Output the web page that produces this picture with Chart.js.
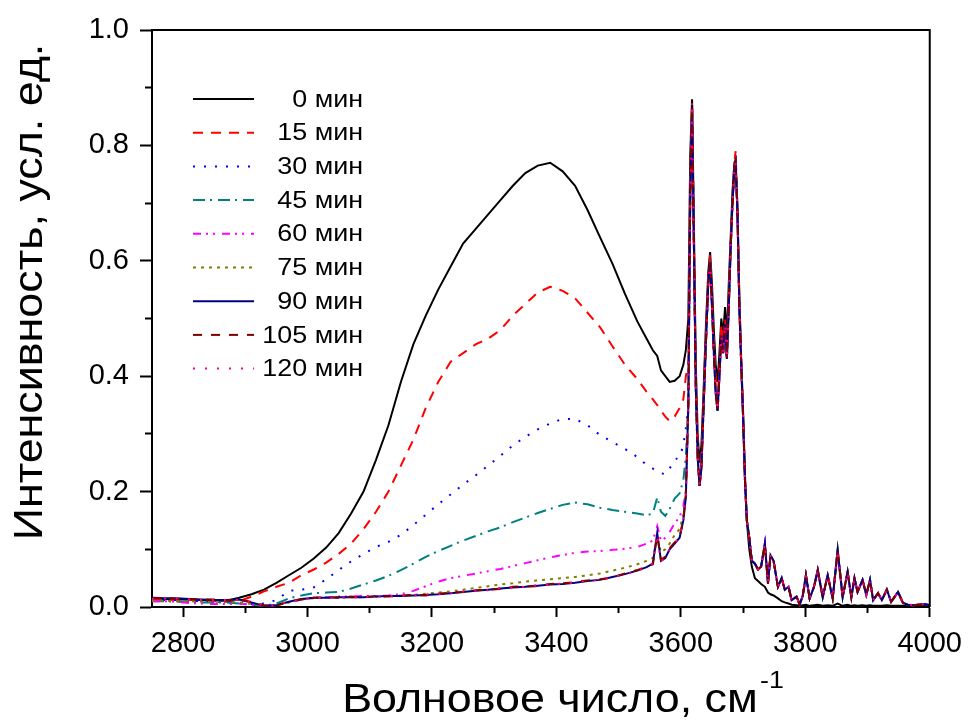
<!DOCTYPE html>
<html>
<head>
<meta charset="utf-8">
<script src="https://cdn.jsdelivr.net/npm/chart.js@4.4.1/dist/chart.umd.min.js"></script>
<style>
  html, body { margin: 0; padding: 0; background: #fff; }
  #wrap { width: 972px; height: 722px; position: relative; }
</style>
</head>
<body>
<div id="wrap"><canvas id="spectra"></canvas></div>
<script>
// ==========================================
// Data
// ==========================================

// wavenumbers, cm-1: broad O-H band part and sharp peak / tail part
const nuBroad = [2750,2770,2790,2810,2830,2850,2870,2890,2910,2930,
  2950,2970,2990,3010,3030,3050,3070,3090,3110,3130,
  3150,3170,3190,3210,3230,3250,3270,3290,3310,3330,
  3350,3370,3390,3410,3430,3450,3470,3490,3510,3530,
  3545,3555,3562,3568,3575,3582,3590,3598,3604,3608];

const nuPeak = [3612,3615,3618,3621,3624,3627,3630,3633,3636,3640,
  3644,3647,3650,3653,3656,3659,3662,3665,3668,3671,
  3674,3677,3680,3683,3686,3688,3691,3694,3697,3700,
  3703,3706,3710,3714,3719,3724,3729,3735,3740,3744,
  3749,3756,3762,3767,3773,3778,3786,3791,3796,3801,
  3807,3814,3820,3828,3836,3844,3852,3860,3868,3874,
  3879,3884,3892,3898,3904,3909,3917,3923,3931,3938,
  3949,3957,3965,3973,3982,3992,4000];

const labels = ["0 мин", "15 мин", "30 мин", "45 мин", "60 мин", "75 мин", "90 мин", "105 мин", "120 мин"];

const broad0 = [0.014,0.014,0.013,0.013,0.012,0.011,0.011,0.016,0.022,0.030,
  0.042,0.055,0.068,0.084,0.103,0.128,0.162,0.200,0.255,0.315,
  0.390,0.455,0.505,0.550,0.590,0.630,0.655,0.680,0.705,0.730,
  0.752,0.765,0.770,0.755,0.730,0.688,0.641,0.595,0.543,0.495,
  0.465,0.445,0.435,0.410,0.400,0.390,0.392,0.400,0.420,0.445];

const broad15 = [0.013,0.013,0.012,0.012,0.011,0.010,0.009,0.010,0.018,0.027,
  0.035,0.042,0.055,0.065,0.077,0.092,0.110,0.135,0.165,0.200,
  0.245,0.290,0.345,0.390,0.425,0.440,0.455,0.465,0.480,0.505,
  0.525,0.545,0.555,0.548,0.535,0.510,0.485,0.452,0.420,0.395,
  0.373,0.360,0.350,0.340,0.330,0.322,0.330,0.345,0.360,0.400];

const broad30 = [0.012,0.012,0.012,0.011,0.010,0.009,0.008,0.006,0.005,0.006,
  0.012,0.028,0.030,0.034,0.048,0.064,0.079,0.092,0.104,0.113,
  0.125,0.142,0.160,0.178,0.195,0.212,0.228,0.245,0.262,0.280,
  0.295,0.308,0.318,0.326,0.326,0.315,0.298,0.286,0.274,0.260,
  0.246,0.240,0.236,0.232,0.230,0.240,0.255,0.260,0.280,0.310];

const broad45 = [0.010,0.010,0.009,0.009,0.008,0.008,0.008,0.006,0.004,0.002,
  0.006,0.015,0.020,0.024,0.025,0.026,0.032,0.039,0.046,0.054,
  0.064,0.075,0.087,0.097,0.106,0.115,0.123,0.131,0.138,0.147,
  0.155,0.163,0.170,0.177,0.181,0.178,0.172,0.168,0.165,0.162,
  0.159,0.162,0.190,0.165,0.158,0.170,0.188,0.197,0.220,0.260];

const broad60 = [0.010,0.010,0.009,0.007,0.006,0.005,0.005,0.006,0.004,0.002,
  0.003,0.008,0.013,0.016,0.017,0.018,0.018,0.019,0.019,0.020,
  0.022,0.028,0.036,0.044,0.050,0.054,0.058,0.062,0.066,0.071,
  0.076,0.081,0.086,0.090,0.094,0.096,0.097,0.099,0.101,0.104,
  0.110,0.115,0.140,0.115,0.120,0.130,0.145,0.156,0.175,0.200];

const broad75 = [0.011,0.011,0.010,0.010,0.009,0.009,0.009,0.008,0.005,0.002,
  0.003,0.008,0.013,0.015,0.016,0.016,0.017,0.017,0.018,0.019,
  0.020,0.021,0.023,0.025,0.027,0.030,0.033,0.036,0.039,0.041,
  0.044,0.046,0.048,0.050,0.052,0.055,0.058,0.063,0.068,0.074,
  0.080,0.085,0.120,0.095,0.100,0.110,0.125,0.135,0.160,0.200];

const broad90 = [0.016,0.015,0.015,0.014,0.013,0.012,0.012,0.013,0.008,0.002,
  0.003,0.009,0.014,0.016,0.016,0.017,0.017,0.017,0.018,0.019,
  0.019,0.020,0.021,0.022,0.024,0.026,0.028,0.030,0.032,0.034,
  0.035,0.037,0.039,0.040,0.042,0.045,0.047,0.052,0.057,0.063,
  0.069,0.075,0.128,0.080,0.085,0.100,0.110,0.120,0.150,0.190];

const broad105 = [0.015,0.016,0.014,0.014,0.013,0.013,0.011,0.012,0.009,0.003,
  0.002,0.010,0.013,0.016,0.017,0.016,0.018,0.017,0.019,0.018,
  0.020,0.021,0.020,0.023,0.025,0.026,0.029,0.030,0.031,0.035,
  0.036,0.036,0.040,0.041,0.043,0.046,0.048,0.051,0.058,0.064,
  0.070,0.074,0.125,0.082,0.087,0.102,0.112,0.122,0.152,0.195];

const broad120 = [0.014,0.015,0.015,0.013,0.012,0.012,0.012,0.012,0.008,0.003,
  0.003,0.009,0.013,0.015,0.016,0.017,0.016,0.018,0.018,0.019,
  0.020,0.020,0.022,0.022,0.024,0.027,0.028,0.029,0.033,0.034,
  0.035,0.038,0.038,0.041,0.042,0.045,0.048,0.052,0.056,0.063,
  0.068,0.076,0.126,0.079,0.086,0.101,0.111,0.121,0.151,0.192];

// sharp free O-H peaks and noisy tail
const peak0 = [0.50,0.78,0.88,0.66,0.42,0.30,0.25,0.28,0.36,0.48,
  0.58,0.615,0.56,0.48,0.42,0.39,0.44,0.50,0.47,0.52,
  0.47,0.56,0.64,0.72,0.77,0.775,0.69,0.54,0.43,0.34,
  0.23,0.15,0.10,0.07,0.05,0.045,0.04,0.035,0.025,0.022,
  0.02,0.015,0.01,0.008,0.006,0.004,0.003,0.002,0.003,0.004,
  0.002,0.003,0.004,0.002,0.003,0.002,0.006,0.002,0.004,0.002,
  0.003,0.002,0.003,0.002,0.003,0.002,0.002,0.002,0.003,0.002,
  0.002,0.002,0.002,0.002,0.002,0.002,0.002];

const peak15 = [0.42,0.75,0.875,0.64,0.40,0.28,0.23,0.26,0.35,0.47,
  0.57,0.61,0.54,0.46,0.40,0.36,0.42,0.49,0.46,0.50,
  0.45,0.54,0.63,0.71,0.77,0.79,0.69,0.53,0.43,0.33,
  0.22,0.15,0.12,0.08,0.075,0.065,0.07,0.105,0.045,0.09,
  0.08,0.035,0.05,0.03,0.035,0.012,0.018,0.004,0.02,0.052,
  0.015,0.035,0.062,0.017,0.055,0.015,0.095,0.017,0.06,0.017,
  0.05,0.026,0.047,0.021,0.045,0.012,0.024,0.012,0.03,0.009,
  0.026,0.007,0.004,0.003,0.004,0.005,0.003];

const peakLate = [0.35,0.70,0.87,0.62,0.38,0.26,0.21,0.24,0.33,0.45,
  0.56,0.60,0.52,0.44,0.37,0.34,0.40,0.47,0.44,0.49,
  0.43,0.52,0.62,0.70,0.76,0.77,0.68,0.52,0.42,0.33,
  0.22,0.15,0.12,0.08,0.075,0.065,0.07,0.11,0.04,0.09,
  0.08,0.035,0.05,0.03,0.035,0.012,0.018,0.004,0.02,0.055,
  0.015,0.035,0.064,0.017,0.055,0.015,0.099,0.017,0.061,0.017,
  0.05,0.026,0.047,0.021,0.047,0.012,0.024,0.012,0.03,0.009,
  0.026,0.007,0.004,0.003,0.004,0.005,0.003];

const broadSets = [broad0, broad15, broad30, broad45, broad60, broad75, broad90, broad105, broad120];
const peakSets = [peak0, peak15, peakLate, peakLate, peakLate, peakLate, peakLate, peakLate, peakLate];

// Origin-like line styles
const colors = ["#000000", "#ff0000", "#0000ff", "#008080", "#ff00ff", "#808000", "#000080", "#800000", "#ff0080"];
const dashes = [[], [10, 8], [2, 9], [12, 5, 2, 6], [8, 5, 2, 5, 2, 7], [3, 5], [], [9, 9], [2, 10]];

const FONT = '"Liberation Sans", Arial, sans-serif';
const STRETCH = 1.12;

// ==========================================
// Chart
// ==========================================

function makePoints(i) {
   const pts = nuBroad.map((x, k) => ({ x: x, y: broadSets[i][k] }));
   return pts.concat(nuPeak.map((x, k) => ({ x: x, y: peakSets[i][k] })));
}

let datasets = [];
labels.forEach((name, i) => {
   datasets.push({
      label: name,
      data: makePoints(i),
      borderColor: colors[i],
      borderWidth: 2,
      borderDash: dashes[i],
      pointRadius: 0,
      tension: 0,
      fill: false,
      order: labels.length - i
   });
});

const decorations = {
   id: "decorations",
   afterDraw(chart) {
      const ctx = chart.ctx;
      const a = chart.chartArea;
      ctx.save();

      // top and right sides of the frame
      ctx.strokeStyle = "#000";
      ctx.lineWidth = 2;
      ctx.beginPath();
      ctx.moveTo(a.left, a.top);
      ctx.lineTo(a.right, a.top);
      ctx.lineTo(a.right, a.bottom);
      ctx.stroke();

      // legend
      ctx.fillStyle = "#000";
      ctx.font = "24px " + FONT;
      ctx.textBaseline = "middle";
      labels.forEach((name, i) => {
         const y = 99 + i * 33.7;
         ctx.save();
         ctx.strokeStyle = colors[i];
         ctx.lineWidth = 2;
         ctx.setLineDash(dashes[i]);
         ctx.beginPath();
         ctx.moveTo(193, y);
         ctx.lineTo(254, y);
         ctx.stroke();
         ctx.restore();
         ctx.save();
         ctx.translate(363, y + 1);
         ctx.scale(STRETCH, 1);
         ctx.textAlign = "right";
         ctx.fillText(name, 0, 0);
         ctx.restore();
      });

      // x axis title with superscript
      ctx.textBaseline = "alphabetic";
      ctx.textAlign = "left";
      ctx.font = "40px " + FONT;
      const mainText = "Волновое число, см";
      const wMain = ctx.measureText(mainText).width;
      ctx.font = "24px " + FONT;
      const wSup = ctx.measureText("-1").width;
      const total = (wMain + wSup + 2) * STRETCH;
      ctx.save();
      ctx.translate(563 - total / 2, 712);
      ctx.scale(STRETCH, 1);
      ctx.font = "40px " + FONT;
      ctx.fillText(mainText, 0, 0);
      ctx.font = "24px " + FONT;
      ctx.fillText("-1", wMain + 2, -24);
      ctx.restore();

      // y axis title
      ctx.save();
      ctx.translate(42, 292);
      ctx.rotate(-Math.PI / 2);
      ctx.scale(STRETCH, 1);
      ctx.font = "40px " + FONT;
      ctx.textAlign = "center";
      ctx.fillText("Интенсивность, усл. ед.", 0, 0);
      ctx.restore();

      ctx.restore();
   }
};

const ctx = document.getElementById("spectra");

let chart = new Chart(ctx, {
   type: "line",
   data: { datasets: datasets },
   options: {
      responsive: true,
      maintainAspectRatio: false,
      animation: false,
      layout: { padding: { top: 30, right: 42, left: 0, bottom: 0 } },
      plugins: {
         legend: { display: false },
         tooltip: { enabled: false }
      },
      scales: {
         x: {
            type: "linear",
            min: 2750,
            max: 4000,
            afterFit: (s) => { s.height = 115; },
            border: { color: "#000", width: 2 },
            grid: {
               drawOnChartArea: false,
               tickLength: 10,
               tickColor: "#000",
               tickWidth: 2,
               tickBorderDash: (c) => (c.tick && c.tick.value % 200 !== 0) ? [5, 100] : []
            },
            ticks: {
               stepSize: 100,
               includeBounds: false,
               autoSkip: false,
               maxRotation: 0,
               padding: 10,
               color: "#000",
               font: { family: FONT, size: 29 },
               callback: (v) => (v % 200 === 0 ? String(v) : "")
            }
         },
         y: {
            min: 0,
            max: 1,
            afterFit: (s) => { s.width = 152; },
            border: { color: "#000", width: 2 },
            grid: {
               drawOnChartArea: false,
               tickLength: 12,
               tickColor: "#000",
               tickWidth: 2,
               tickBorderDash: (c) => (c.tick && Math.round(c.tick.value * 10) % 2 !== 0) ? [0, 5, 7, 100] : []
            },
            ticks: {
               stepSize: 0.1,
               autoSkip: false,
               padding: 11,
               color: "#000",
               font: { family: FONT, size: 29 },
               callback: (v) => (Math.round(v * 10) % 2 === 0 ? v.toFixed(1) : "")
            }
         }
      }
   },
   plugins: [decorations]
});
</script>
</body>
</html>
